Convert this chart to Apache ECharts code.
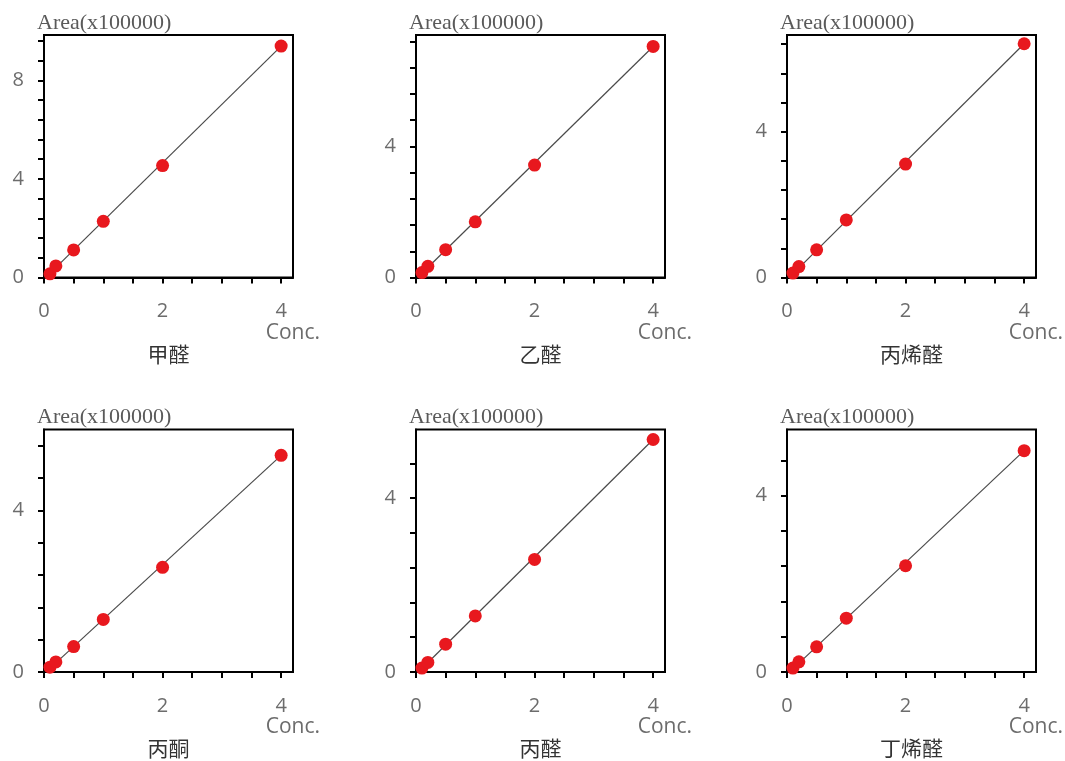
<!DOCTYPE html>
<html><head><meta charset="utf-8">
<script src="https://cdn.jsdelivr.net/npm/echarts@6/dist/echarts.min.js"></script>
<style>html,body{margin:0;padding:0;background:#fff}#c{width:1065px;height:761px}</style>
</head><body><div id="c"></div>
<script>
// ---- data ----
const compounds = ['甲醛', '乙醛', '丙烯醛', '丙酮', '丙醛', '丁烯醛'];
const concentrations = [0.1, 0.2, 0.5, 1, 2, 4];
const areaFormaldehyde   = [0.15, 0.47, 1.12, 2.28, 4.54, 9.39];
const areaAcetaldehyde   = [0.15, 0.34, 0.85, 1.70, 3.43, 7.05];
const areaAcrolein       = [0.12, 0.30, 0.76, 1.58, 3.11, 6.41];
const areaAcetone        = [0.12, 0.25, 0.63, 1.30, 2.59, 5.36];
const areaPropanal       = [0.09, 0.22, 0.64, 1.29, 2.59, 5.35];
const areaCrotonaldehyde = [0.09, 0.23, 0.57, 1.22, 2.41, 5.02];
// fitted calibration line end points [conc, area]
const fitFormaldehyde   = [[0.1, 0.17], [4, 9.39]];
const fitAcetaldehyde   = [[0.1, 0.13], [4, 7.05]];
const fitAcrolein       = [[0.1, 0.10], [4, 6.41]];
const fitAcetone        = [[0.1, 0.09], [4, 5.36]];
const fitPropanal       = [[0.1, 0.08], [4, 5.35]];
const fitCrotonaldehyde = [[0.1, 0.07], [4, 5.02]];
const yMaxValues = [9.84, 7.4, 6.65, 6.0, 5.58, 5.5];
const xMaxValue = 4.2;
const xTickValues = [0, 0.5, 1, 1.5, 2, 2.5, 3, 3.5, 4];
const xLabelValues = [0, 2, 4];
const yTicks1 = [0, 0.8, 1.6, 2.4, 3.2, 4, 4.8, 5.6, 6.4, 7.2, 8, 8.8, 9.6];
const yTicks2 = [0, 0.8, 1.6, 2.4, 3.2, 4, 4.8, 5.6, 6.4, 7.2];
const yTicks3 = [0, 0.8, 1.6, 2.4, 3.2, 4, 4.8, 5.6, 6.4];
const yTicks4 = [0, 0.8, 1.6, 2.4, 3.2, 4, 4.8, 5.6];
const yTicks5 = [0, 0.8, 1.6, 2.4, 3.2, 4, 4.8];
const yTicks6 = [0, 0.8, 1.6, 2.4, 3.2, 4, 4.8];
const yLabels1 = [0, 4, 8];
const yLabelsOther = [0, 4];
const yAxisTitle = 'Area(x100000)';
const xAxisTitle = 'Conc.';

const areas = [areaFormaldehyde, areaAcetaldehyde, areaAcrolein, areaAcetone, areaPropanal, areaCrotonaldehyde];
const fits = [fitFormaldehyde, fitAcetaldehyde, fitAcrolein, fitAcetone, fitPropanal, fitCrotonaldehyde];
const yTicks = [yTicks1, yTicks2, yTicks3, yTicks4, yTicks5, yTicks6];
const yLabels = [yLabels1, yLabelsOther, yLabelsOther, yLabelsOther, yLabelsOther, yLabelsOther];

// ---- layout ----
const colLeft = [44, 416, 787];
const rowTop = [35, 429.5];
const gw = 249, gh = 242.5;
const labelColor = '#6c6c6c';
const labelFont = 'Open Sans';

const grids = [], xAxes = [], yAxes = [], series = [], graphics = [];
for (let i = 0; i < 6; i++) {
  const c = i % 3, r = Math.floor(i / 3);
  const L = colLeft[c], T = rowTop[r];
  grids.push({left: L, top: T, width: gw, height: gh, show: true, borderColor: '#000', borderWidth: 2, backgroundColor: '#fff', containLabel: false});
  xAxes.push({
    type: 'value', gridIndex: i, min: 0, max: xMaxValue,
    axisLine: {show: true, onZero: false, lineStyle: {color: '#000', width: 2}},
    axisTick: {show: true, length: 6, customValues: xTickValues, lineStyle: {color: '#000', width: 2}},
    axisLabel: {customValues: xLabelValues, margin: 24, color: labelColor, fontSize: 20, fontFamily: labelFont},
    splitLine: {show: false}
  });
  yAxes.push({
    type: 'value', gridIndex: i, min: 0, max: yMaxValues[i],
    axisLine: {show: true, onZero: false, lineStyle: {color: '#000', width: 2}},
    axisTick: {show: true, length: 6, customValues: yTicks[i], lineStyle: {color: '#000', width: 2}},
    axisLabel: {customValues: yLabels[i], margin: 20, color: labelColor, fontSize: 20, fontFamily: labelFont},
    splitLine: {show: false}
  });
  series.push({
    type: 'line', xAxisIndex: i, yAxisIndex: i, data: fits[i], symbol: 'none',
    lineStyle: {color: '#4a4a4a', width: 1.2}, z: 2, silent: true
  });
  series.push({
    type: 'scatter', xAxisIndex: i, yAxisIndex: i,
    data: concentrations.map((x, k) => [x, areas[i][k]]),
    symbolSize: 13, itemStyle: {color: '#e8181e', opacity: 1}, z: 3
  });
  graphics.push({type: 'text', x: L - 7, y: T - 12, style: {text: yAxisTitle, fill: '#5a5a5a', fontSize: 22, fontFamily: 'Liberation Serif', align: 'left', verticalAlign: 'middle'}});
  graphics.push({type: 'text', x: L + gw + 27, y: T + 298, style: {text: xAxisTitle, fill: labelColor, fontSize: 21, fontFamily: labelFont, align: 'right', verticalAlign: 'middle'}});
  graphics.push({type: 'text', x: L + gw / 2, y: T + 319, style: {text: compounds[i], fill: '#333', fontSize: 21, fontFamily: 'Noto Sans CJK SC', align: 'center', verticalAlign: 'middle'}});
}

const chart = echarts.init(document.getElementById('c'), null, {renderer: 'canvas'});
chart.setOption({
  backgroundColor: '#fff',
  animation: false,
  grid: grids, xAxis: xAxes, yAxis: yAxes, series: series, graphic: graphics
});
</script></body></html>
